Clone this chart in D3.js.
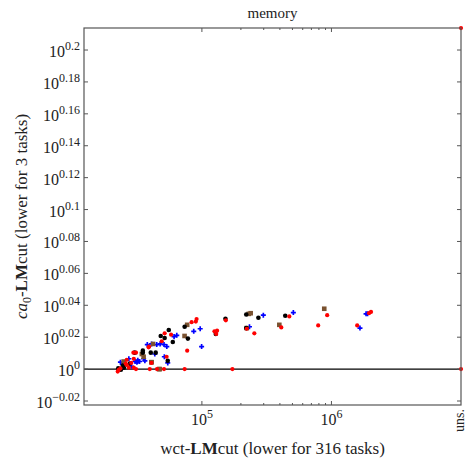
<!DOCTYPE html>
<html>
<head>
<meta charset="utf-8">
<script src="https://cdn.jsdelivr.net/npm/d3@7"></script>
<style>
  body { margin: 0; background: #fff; }
  text { font-family: "Liberation Serif", "DejaVu Serif", serif; fill: #222; }
</style>
</head>
<body>
<div id="chart"></div>
<script>
// ---------- data (x = wct-LMcut, y = ratio ca0 / wct) ----------
const UNS = 1e7; // "uns." column at right edge

const blackPts = [
  [152000, 1.0753], [73600, 1.063], [128000, 1.052], [78000, 1.045], [59600, 1.040],
  [55500, 1.058], [48100, 1.049], [51600, 1.046], [35000, 1.027], [35000, 1.024],
  [40300, 1.024], [54500, 1.012], [220000, 1.082], [273000, 1.077], [440000, 1.080],
  [220000, 1.061], [30300, 1.024], [24500, 1.005], [25000, 1.002], [44000, 1.024],
  [23700, 0.999], [27800, 1.008], [22600, 1.001]
];

const bluePts = [
  [97000, 1.060], [86500, 1.056], [64000, 1.050], [61000, 1.048], [44800, 1.036],
  [47600, 1.037], [51000, 1.036], [37900, 1.036], [53600, 1.033], [99500, 1.033],
  [43300, 1.022], [51300, 1.018], [35500, 1.015], [36300, 1.012], [32000, 1.013],
  [32000, 1.011], [54500, 1.009], [298000, 1.081], [508000, 1.085], [1850000, 1.083],
  [1900000, 1.083], [1660000, 1.061], [233000, 1.063], [23500, 1.010], [27300, 1.015],
  [31500, 1.010], [33000, 1.011], [28600, 1.004], [24400, 1.007], [40900, 1.037],
  [30500, 1.011]
];

const redPts = [
  [153000, 1.073], [91000, 1.075], [89800, 1.071], [83300, 1.070], [125000, 1.056],
  [131000, 1.057], [129000, 1.052], [57800, 1.051], [51600, 1.053], [49000, 1.041],
  [39100, 1.033], [77000, 1.027], [29600, 1.024], [31000, 1.024], [53400, 1.018],
  [39600, 1.0], [45000, 1.0], [51000, 1.0], [73600, 1.0], [172000, 1.0],
  [473000, 1.079], [927000, 1.081], [410000, 1.062], [790000, 1.065], [1580000, 1.065],
  [1950000, 1.084], [2020000, 1.086], [222000, 1.060], [254000, 1.053], [22800, 0.999],
  [22400, 0.9965], [26300, 1.006], [28500, 1.009], [29800, 1.015], [31000, 1.0],
  [23500, 1.001], [38800, 1.032], [25800, 1.008], [26300, 1.0135], [27300, 1.002],
  [29800, 1.002], [40800, 1.009], [UNS, 1.0], [UNS, 1.636]
];

const brownPts = [
  [77000, 1.066], [73500, 1.049], [42000, 1.037], [40700, 1.010], [47200, 1.0],
  [230000, 1.083], [238000, 1.084], [880000, 1.091], [396000, 1.066], [24900, 1.011],
  [35500, 1.018], [34400, 1.022], [40900, 1.010], [46800, 1.0], [222000, 1.061]
];

const yExponents = [-0.02, 0, 0.02, 0.04, 0.06, 0.08, 0.1, 0.12, 0.14, 0.16, 0.18, 0.2];
const xMajor = [1e5, 1e6];
const xMinor = [2e5, 3e5, 4e5, 5e5, 6e5, 7e5, 8e5, 9e5];

const colBlack = "#000000";
const colBlue = "#0000ff";
const colRed = "#ff0000";
const colBrown = "#7a5230";

// ---------- layout ----------
const width = 467, height = 459;
const plot = { left: 84, right: 461, top: 28, bottom: 405 };

const svg = d3.select("#chart").append("svg")
  .attr("width", width).attr("height", height);

const x = d3.scaleLog()
  .domain([Math.pow(10, 4.09), UNS])
  .range([plot.left, plot.right]);

const y = d3.scaleLog()
  .domain([Math.pow(10, -0.0225), Math.pow(10, 0.2138)])
  .range([plot.bottom, plot.top]);

// horizontal reference line at 1
svg.append("line")
  .attr("x1", plot.left).attr("x2", plot.right)
  .attr("y1", y(1)).attr("y2", y(1))
  .attr("stroke", "#000").attr("stroke-width", 1.3);

// ---------- markers ----------
const g = svg.append("g");

g.selectAll(".blue").data(bluePts).enter().append("path")
  .attr("d", d3.symbol().type(d3.symbolCross).size(14))
  .attr("transform", d => `translate(${x(d[0])},${y(d[1])})`)
  .attr("fill", colBlue);

g.selectAll(".brown").data(brownPts).enter().append("rect")
  .attr("x", d => x(d[0]) - 2.3).attr("y", d => y(d[1]) - 2.3)
  .attr("width", 4.6).attr("height", 4.6)
  .attr("fill", colBrown);

g.selectAll(".black").data(blackPts).enter().append("circle")
  .attr("cx", d => x(d[0])).attr("cy", d => y(d[1]))
  .attr("r", 2.3).attr("fill", colBlack);

g.selectAll(".red").data(redPts).enter().append("circle")
  .attr("cx", d => x(d[0])).attr("cy", d => Math.max(plot.top, y(d[1])))
  .attr("r", 2.1).attr("fill", colRed);

// ---------- frame & ticks ----------
const frameCol = "#555";
svg.append("rect")
  .attr("x", plot.left).attr("y", plot.top)
  .attr("width", plot.right - plot.left).attr("height", plot.bottom - plot.top)
  .attr("fill", "none").attr("stroke", frameCol).attr("stroke-width", 1.2);

const ticks = svg.append("g").attr("stroke", frameCol).attr("stroke-width", 1);

yExponents.forEach(e => {
  const yy = y(Math.pow(10, e));
  ticks.append("line").attr("x1", plot.left).attr("x2", plot.left + 4).attr("y1", yy).attr("y2", yy);
  ticks.append("line").attr("x1", plot.right).attr("x2", plot.right - 4).attr("y1", yy).attr("y2", yy);
});
xMajor.forEach(v => {
  const xx = x(v);
  ticks.append("line").attr("x1", xx).attr("x2", xx).attr("y1", plot.bottom).attr("y2", plot.bottom - 4);
  ticks.append("line").attr("x1", xx).attr("x2", xx).attr("y1", plot.top).attr("y2", plot.top + 4);
});
xMinor.forEach(v => {
  const xx = x(v);
  ticks.append("line").attr("x1", xx).attr("x2", xx).attr("y1", plot.bottom).attr("y2", plot.bottom - 2);
  ticks.append("line").attr("x1", xx).attr("x2", xx).attr("y1", plot.top).attr("y2", plot.top + 2);
});

// ---------- tick labels ----------
yExponents.forEach(e => {
  const t = svg.append("text")
    .attr("x", plot.left - 4).attr("y", y(Math.pow(10, e)) + 7)
    .attr("text-anchor", "end").attr("font-size", 16);
  t.append("tspan").text("10");
  t.append("tspan").attr("dy", -7).attr("font-size", 12).text(e === 0 ? "0" : (e < 0 ? "\u2212" : "") + Math.abs(e));
});

xMajor.forEach(v => {
  const t = svg.append("text")
    .attr("x", x(v)).attr("y", plot.bottom + 20)
    .attr("text-anchor", "middle").attr("font-size", 16);
  t.append("tspan").text("10");
  t.append("tspan").attr("dy", -7).attr("font-size", 12).text(Math.round(Math.log10(v)));
});

svg.append("text")
  .attr("transform", `translate(${x(UNS) + 3},${plot.bottom + 4}) rotate(-90)`)
  .attr("text-anchor", "end").attr("font-size", 14).text("uns.");

// ---------- titles ----------
svg.append("text")
  .attr("x", (plot.left + plot.right) / 2).attr("y", 18)
  .attr("text-anchor", "middle").attr("font-size", 15).text("memory");

const xl = svg.append("text")
  .attr("x", (plot.left + plot.right) / 2).attr("y", 454)
  .attr("text-anchor", "middle").attr("font-size", 17);
xl.append("tspan").text("wct-");
xl.append("tspan").attr("font-weight", "bold").text("LM");
xl.append("tspan").text("cut (lower for 316 tasks)");

const yl = svg.append("text")
  .attr("transform", `translate(27,${(plot.top + plot.bottom) / 2}) rotate(-90)`)
  .attr("text-anchor", "middle").attr("font-size", 17);
yl.append("tspan").attr("font-style", "italic").text("ca");
yl.append("tspan").attr("dy", 4).attr("font-size", 12).text("0");
yl.append("tspan").attr("dy", -4).text("-");
yl.append("tspan").attr("font-weight", "bold").text("LM");
yl.append("tspan").text("cut (lower for 3 tasks)");
</script>
</body>
</html>
